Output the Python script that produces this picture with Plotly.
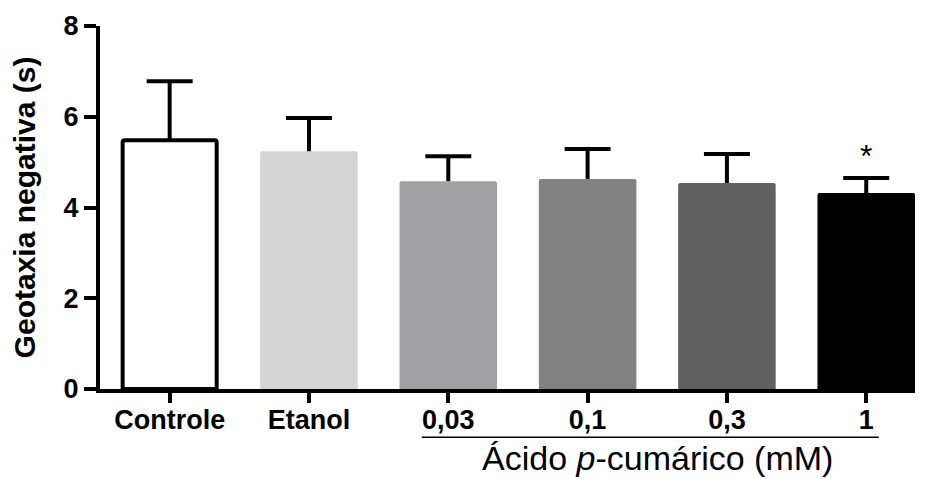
import plotly.graph_objects as go

categories = ["Controle", "Etanol", "0,03", "0,1", "0,3", "1"]
means = [5.48, 5.24, 4.58, 4.63, 4.54, 4.32]
sem = [1.30, 0.73, 0.55, 0.66, 0.64, 0.33]
y_ticks = [0, 2, 4, 6, 8]
colors = ["#ffffff", "#d4d4d4", "#a1a1a4", "#818181", "#606060", "#000000"]

FONT = "Liberation Sans, Arial, Helvetica, sans-serif"
xpos = list(range(len(categories)))

fig = go.Figure()
fig.add_trace(go.Bar(
    x=xpos, y=means,
    width=[0.675] + [0.70] * (len(categories) - 1),
    marker=dict(color=colors,
                line=dict(color=["#000000"] + colors[1:], width=[4] + [0] * (len(categories) - 1)),
                cornerradius=2),
    showlegend=False, hoverinfo="skip",
))

# error bars (upper only), built from the data arrays
hw = 0.165
ex, ey = [], []
for xi, m, e in zip(xpos, means, sem):
    ex += [xi, xi, None, xi - hw, xi + hw, None]
    ey += [m, m + e, None, m + e, m + e, None]
fig.add_trace(go.Scatter(x=ex, y=ey, mode="lines",
                         line=dict(color="#000000", width=4),
                         showlegend=False, hoverinfo="skip"))

# significance marker
fig.add_annotation(x=xpos[5], y=means[5] + sem[5], text="*", showarrow=False,
                   yanchor="bottom", yshift=2, font=dict(family=FONT, size=32, color="#000"))

# group label
fig.add_annotation(x=3.5, xref="x", y=-0.19, yref="paper",
                   text="Ácido <i>p</i>-cumárico (mM)", showarrow=False,
                   xanchor="center", yanchor="middle",
                   font=dict(family=FONT, size=34, color="#000"))
fig.add_shape(type="line", xref="x", yref="paper", x0=1.81, x1=5.09, y0=-0.133, y1=-0.133,
              line=dict(color="#000", width=1.5))

# page body has an 8px default margin: figure sized to fill the rest of the window
fig.update_layout(
    width=920, height=471,
    margin=dict(l=92, r=13, t=18, b=90, autoexpand=False),
    paper_bgcolor="white", plot_bgcolor="white",
    font=dict(family=FONT, color="#000"),
    bargap=0.3,
)
fig.update_xaxes(
    range=[-0.5, 5.35], tickmode="array", tickvals=xpos, ticktext=categories,
    showline=True, linecolor="#000", linewidth=4, ticks="outside", ticklen=10,
    tickwidth=4, tickcolor="#000", showgrid=False, zeroline=False, automargin=False,
    ticklabelstandoff=-6,
    tickfont=dict(family=FONT, size=27, color="#000", weight="bold"),
)
fig.update_yaxes(
    range=[0, 8], tickmode="array", tickvals=y_ticks,
    showline=True, linecolor="#000", linewidth=4, ticks="outside", ticklen=12,
    tickwidth=4, tickcolor="#000", showgrid=False, zeroline=False, automargin=False,
    tickfont=dict(family=FONT, size=27, color="#000", weight="bold"),
    title=dict(text="Geotaxia negativa (s)", standoff=22,
               font=dict(family=FONT, size=30, color="#000", weight="bold")),
)

fig.write_html("out.html")
